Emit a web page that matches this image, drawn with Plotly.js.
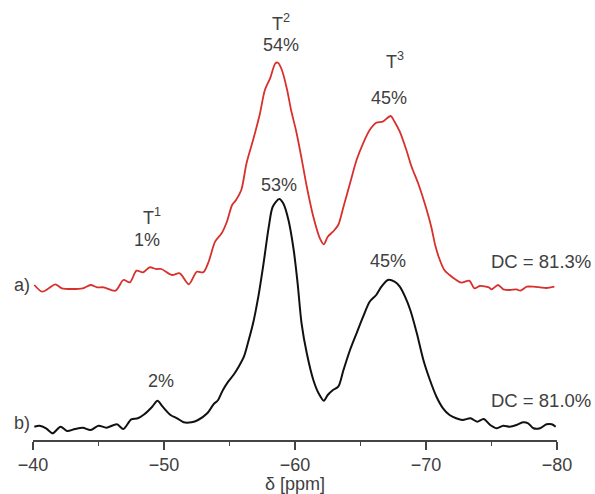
<!DOCTYPE html>
<html>
<head>
<meta charset="utf-8">
<script src="https://cdn.plot.ly/plotly-3.0.1.min.js"></script>
<style>html,body{margin:0;padding:0;background:#fff;}#chart{width:595px;height:494px;}</style>
</head>
<body>
<div id="chart"></div>
<script>
// Spectrum a) (red), chemical shift in ppm and intensity (arbitrary units, own baseline)
const ppmA = [-40.1,-40.7,-41.2,-41.7,-42.2,-43.0,-43.8,-44.4,-44.9,-45.4,-46.3,-46.9,-47.4,-47.9,-48.4,-48.9,-49.4,-49.8,-50.6,-51.2,-51.9,-52.5,-53.0,-53.4,-53.9,-54.4,-54.8,-55.2,-55.5,-55.9,-56.3,-56.8,-57.3,-57.7,-58.1,-58.5,-58.7,-59.0,-59.4,-59.7,-60.1,-60.5,-60.9,-61.4,-61.9,-62.2,-62.5,-62.9,-63.3,-63.7,-64.2,-64.7,-65.2,-65.7,-66.2,-66.7,-67.3,-67.6,-68.0,-68.5,-68.9,-69.4,-69.9,-70.4,-70.7,-71.0,-71.4,-71.8,-72.2,-72.7,-73.3,-73.7,-74.1,-74.8,-75.0,-75.5,-75.9,-76.4,-76.9,-77.2,-77.7,-78.2,-78.7,-79.2,-79.8];
const intA = [3,-3.7,-0.3,3.7,-0.3,-1,-0.3,3,0.7,0.7,-2.7,8,5.7,17.3,15.7,20.7,19,19,13,14.7,3.7,16.3,15.7,26,46.3,54.7,66.3,83,88,98,124.7,148,173,198,209.7,224.7,225.3,218,198,178,156.3,129.7,101.3,71.3,49.7,43.7,51.3,56.3,63,81.3,104.7,128,144.7,158,165.3,166.3,172,166.3,156.3,138,121.3,104.7,84.7,61.3,43,30,18,13,9,5.3,7.3,-0.3,2,0.7,-1.3,3,-1.3,-2,-1.3,-2.7,1.3,1.3,0.7,0,1.3];

// Spectrum b) (black)
const ppmB = [-40.1,-40.5,-41.0,-41.5,-42.1,-42.6,-43.2,-43.8,-44.4,-45.0,-45.6,-46.4,-46.9,-47.5,-48.0,-48.5,-49.1,-49.5,-49.9,-50.5,-51.0,-51.5,-52.1,-52.6,-53.3,-53.8,-54.1,-54.5,-54.9,-55.3,-55.7,-56.1,-56.4,-56.8,-57.2,-57.6,-58.0,-58.3,-58.8,-59.1,-59.5,-59.9,-60.2,-60.5,-60.9,-61.4,-61.8,-62.2,-62.5,-62.9,-63.3,-63.7,-64.2,-64.7,-65.2,-65.7,-66.2,-66.6,-67.1,-67.6,-68.0,-68.4,-68.8,-69.3,-69.8,-70.3,-70.8,-71.3,-71.8,-72.3,-72.8,-73.4,-73.9,-74.4,-74.9,-75.4,-75.9,-76.4,-76.9,-77.4,-77.8,-78.2,-78.7,-79.2,-79.6,-79.9];
const intB = [3.3,4.3,1.7,-3.3,3.3,-1,1,2.3,0,4.3,2.3,5.7,1,10.7,11.7,15.7,23.3,29.3,23.3,15,11.7,7.7,7.7,10,16.7,26,29.5,40,48.3,55,63.3,73.3,86.7,106.7,133.3,166.7,203.3,223.3,231,226.7,210,180,146.7,106.7,76.7,50,36.7,29.3,35,40,43.3,60,80,96.7,113.3,128.3,135,143.3,150,148.3,143.3,133.3,120,96.7,70,50,33.3,21.7,15,11.7,10,11.7,8.3,11,5,1.7,4.3,3.3,5,7.7,6.7,1.7,1.7,5.7,5.7,3.3];

const tickVals = [-40,-50,-60,-70,-80];
const offsetA = 142;

const txt = '#404040';
const fontFam = 'Liberation Sans, Arial, sans-serif';

const traces = [
  {x: ppmA, y: intA.map(v => v + offsetA), type: 'scatter', mode: 'lines',
   line: {color: '#d8302c', width: 1.8, shape: 'spline', smoothing: 0.8}, hoverinfo: 'skip'},
  {x: ppmB, y: intB, type: 'scatter', mode: 'lines',
   line: {color: '#111111', width: 2, shape: 'spline', smoothing: 0.8}, hoverinfo: 'skip'}
];

function ann(x, y, text, opts) {
  return Object.assign({x: x, y: y, xref: 'x', yref: 'y', text: text, showarrow: false,
    xanchor: 'center', yanchor: 'middle', font: {size: 18, color: txt, family: fontFam}}, opts || {});
}

const annotations = [
  ann(-58.9, 408, 'T<sup>2</sup>'),
  ann(-58.9, 385, '54%'),
  ann(-67.6, 370, 'T<sup>3</sup>'),
  ann(-67.2, 332, '45%'),
  ann(-49.1, 214, 'T<sup>1</sup>'),
  ann(-48.7, 190, '1%'),
  ann(-58.8, 245, '53%'),
  ann(-67.1, 169, '45%'),
  ann(-49.8, 49, '2%'),
  ann(1.069, 169, 'DC = 81.3%', {xref: 'paper', xanchor: 'right', font: {size: 18.5, color: txt, family: fontFam}}),
  ann(1.069, 30, 'DC = 81.0%', {xref: 'paper', xanchor: 'right', font: {size: 18.5, color: txt, family: fontFam}}),
  ann(-0.04, 145, 'a)', {xref: 'paper', xanchor: 'left'}),
  ann(-0.04, 7, 'b)', {xref: 'paper', xanchor: 'left'})
];

const layout = {
  width: 595, height: 494,
  margin: {l: 33, r: 38, t: 10, b: 54},
  paper_bgcolor: '#fff', plot_bgcolor: '#fff',
  showlegend: false,
  font: {family: fontFam, size: 18, color: txt},
  xaxis: {
    range: [-40, -80], tickvals: tickVals, ticks: 'outside', ticklen: 8, tickwidth: 1.5,
    tickcolor: '#444', showline: true, linecolor: '#444', linewidth: 1.5,
    showgrid: false, zeroline: false,
    tickfont: {size: 18, color: txt, family: fontFam},
    minor: {dtick: 5, ticks: 'outside', ticklen: 4, tickwidth: 1.5, tickcolor: '#444', showgrid: false},
    title: {text: 'δ [ppm]', font: {size: 18, color: txt, family: fontFam}, standoff: 5}
  },
  yaxis: {range: [-10, 420], visible: false, showgrid: false, zeroline: false},
  annotations: annotations
};

Plotly.newPlot('chart', traces, layout, {staticPlot: true, displayModeBar: false});
</script>
</body>
</html>
